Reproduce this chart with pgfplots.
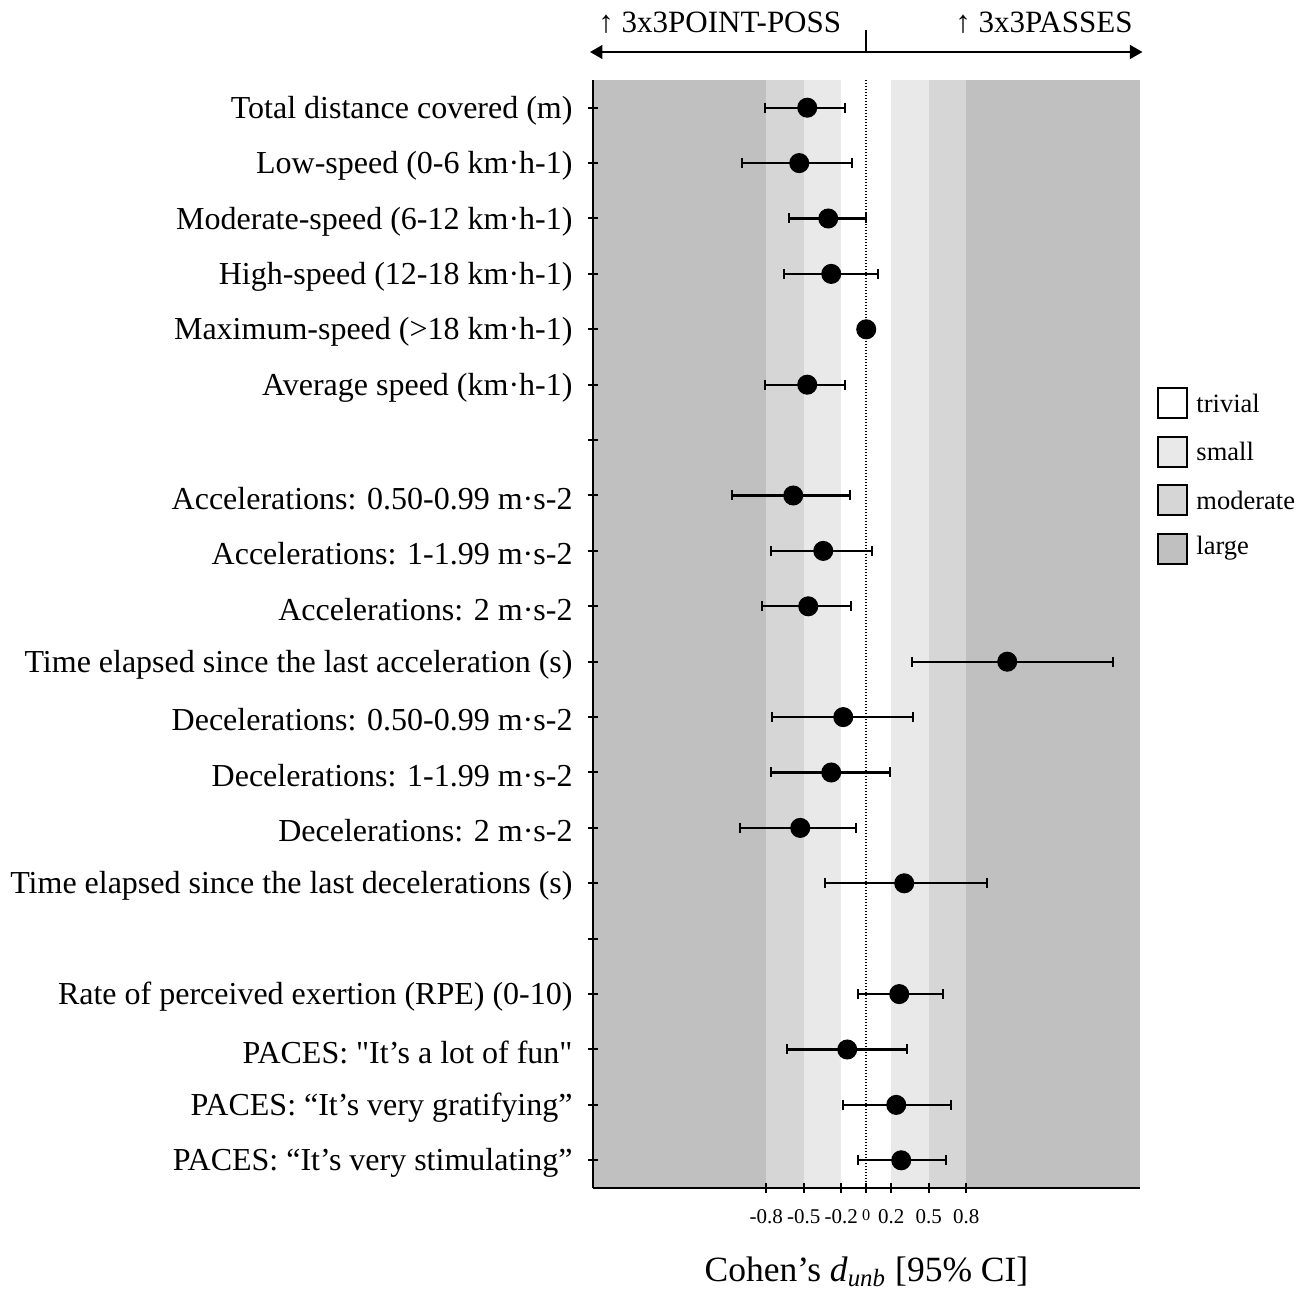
\documentclass[border=0pt]{standalone}
\usepackage{fontspec}
\setmainfont{Liberation Serif}
\usepackage{pgfplots}
\pgfplotsset{compat=1.18}
\usepackage{pgfplotstable}
\usetikzlibrary{arrows.meta}

\definecolor{trivialc}{HTML}{FFFFFF}
\definecolor{smallc}{HTML}{E9E9E9}
\definecolor{moderatec}{HTML}{D6D6D6}
\definecolor{largec}{HTML}{C0C0C0}

% row, effect size, lower and upper 95% CI
\pgfplotstableread{
row d lo hi
1 -0.472 -0.808 -0.168
2 -0.536 -0.992 -0.112
3 -0.304 -0.616 0.000
4 -0.280 -0.656 0.096
5 0.000 0.000 0.000
6 -0.472 -0.808 -0.168
8 -0.584 -1.072 -0.128
9 -0.344 -0.760 0.048
10 -0.464 -0.832 -0.120
11 1.128 0.368 1.976
12 -0.184 -0.752 0.376
13 -0.280 -0.760 0.192
14 -0.528 -1.008 -0.080
15 0.304 -0.328 0.968
17 0.264 -0.064 0.616
18 -0.152 -0.632 0.328
19 0.240 -0.184 0.680
20 0.280 -0.064 0.640
}\effects

\tikzset{legbox/.style={draw=black, line width=0.8pt},
         legtxt/.style={anchor=west, inner sep=0pt, font=\fontsize{10.6}{12}\selectfont}}

\begin{document}
\begin{tikzpicture}
\begin{axis}[
    scale only axis,
    width=218.8pt, height=443.2pt,
    xmin=-2.186, xmax=2.19,
    ymin=0.5, ymax=20.5,
    y dir=reverse,
    axis lines=left,
    axis line style={-, line width=0.8pt},
    axis on top,
    tick align=center,
    major tick length=4pt,
    tick style={line width=0.8pt, black},
    xtick={-0.8,-0.5,-0.2,0,0.2,0.5,0.8},
    xticklabels={-0.8,-0.5,-0.2,{\fontsize{6.5}{6.5}\selectfont 0},0.2,0.5,0.8},
    xticklabel style={font=\fontsize{8.4}{9}\selectfont, inner sep=0pt, yshift=-6.5pt},
    ytick={1,...,20},
    yticklabels={
        {Total distance covered (m)},
        {Low-speed (0-6 km·h-1)},
        {Moderate-speed (6-12 km·h-1)},
        {High-speed (12-18 km·h-1)},
        {Maximum-speed (>18 km·h-1)},
        {Average speed (km·h-1)},
        {},
        {Accelerations: 0.50-0.99 m·s-2},
        {Accelerations: 1-1.99 m·s-2},
        {Accelerations: 2 m·s-2},
        {Time elapsed since the last acceleration (s)},
        {Decelerations: 0.50-0.99 m·s-2},
        {Decelerations: 1-1.99 m·s-2},
        {Decelerations: 2 m·s-2},
        {Time elapsed since the last decelerations (s)},
        {},
        {Rate of perceived exertion (RPE) (0-10)},
        {PACES: \textquotedbl It’s a lot of fun\textquotedbl},
        {PACES: “It’s very gratifying”},
        {PACES: “It’s very stimulating”}},
    yticklabel style={font=\fontsize{12.8}{15}\selectfont, inner sep=0pt, xshift=-6pt, yshift=-1.2pt},
    xlabel={Cohen’s \textit{d}\textsubscript{\textit{unb}} [95\% CI]},
    xlabel style={font=\fontsize{14.2}{17}\selectfont, at={(axis description cs:0.5,0)}, anchor=base, yshift=-37.4pt},
    clip=false,
]
% magnitude bands
\fill[largec] (axis cs:-2.186,0.5) rectangle (axis cs:-0.8,20.5);
\fill[moderatec] (axis cs:-0.8,0.5) rectangle (axis cs:-0.5,20.5);
\fill[smallc] (axis cs:-0.5,0.5) rectangle (axis cs:-0.2,20.5);
\fill[smallc] (axis cs:0.2,0.5) rectangle (axis cs:0.5,20.5);
\fill[moderatec] (axis cs:0.5,0.5) rectangle (axis cs:0.8,20.5);
\fill[largec] (axis cs:0.8,0.5) rectangle (axis cs:2.19,20.5);
\draw[line width=0.6pt, dash pattern=on 0.6pt off 0.6pt] (axis cs:0,0.5) -- (axis cs:0,20.5);

% confidence interval bars
\addplot[only marks, mark=none, black,
    error bars/.cd, x dir=both, x explicit,
    error bar style={line width=0.9pt, black},
    error mark=none]
    table[x=d, y=row,
          x error plus expr=\thisrow{hi}-\thisrow{d},
          x error minus expr=\thisrow{d}-\thisrow{lo}] {\effects};
% caps at the interval ends
\addplot[only marks, mark=|, mark size=2pt, line width=0.9pt, black] table[x=lo, y=row] {\effects};
\addplot[only marks, mark=|, mark size=2pt, line width=0.9pt, black] table[x=hi, y=row] {\effects};
% point estimates
\addplot[only marks, mark=*, mark size=3.8pt, black] table[x=d, y=row] {\effects};

% direction arrow above the plot
\draw[{Triangle[length=5pt,width=5.5pt]}-{Triangle[length=5pt,width=5.5pt]}, line width=0.9pt]
    ([yshift=11.2pt,xshift=-1.2pt]axis description cs:0,1) -- ([yshift=11.2pt,xshift=1pt]axis description cs:1,1);
\draw[line width=0.8pt] ([yshift=11.2pt]axis cs:0,0.5) -- ([yshift=20pt]axis cs:0,0.5);
\node[anchor=base west, inner sep=0pt, font=\fontsize{12.4}{15}\selectfont]
    at ([yshift=19pt,xshift=2pt]axis description cs:0,1) {↑ 3x3POINT-POSS};
\node[anchor=base east, inner sep=0pt, font=\fontsize{12.4}{15}\selectfont]
    at ([yshift=19pt,xshift=-2.8pt]axis description cs:1,1) {↑ 3x3PASSES};

% legend
\draw[legbox, fill=trivialc] ([xshift=7.2pt, yshift=-123.2pt]axis description cs:1,1) rectangle ++(11.6pt,-12pt);
\node[legtxt] at ([xshift=22.4pt, yshift=-129.2pt]axis description cs:1,1) {trivial};
\draw[legbox, fill=smallc] ([xshift=7.2pt, yshift=-142.6pt]axis description cs:1,1) rectangle ++(11.6pt,-12pt);
\node[legtxt] at ([xshift=22.4pt, yshift=-148.6pt]axis description cs:1,1) {small};
\draw[legbox, fill=moderatec] ([xshift=7.2pt, yshift=-162pt]axis description cs:1,1) rectangle ++(11.6pt,-12pt);
\node[legtxt] at ([xshift=22.4pt, yshift=-168pt]axis description cs:1,1) {moderate};
\draw[legbox, fill=largec] ([xshift=7.2pt, yshift=-181.4pt]axis description cs:1,1) rectangle ++(11.6pt,-12pt);
\node[legtxt] at ([xshift=22.4pt, yshift=-187.4pt]axis description cs:1,1) {large};

\coordinate (O) at (axis description cs:0,0);
\end{axis}
\path ([shift={(-237.2pt,-41.2pt)}]O) rectangle ([shift={(288.4pt,475.2pt)}]O);
\end{tikzpicture}
\end{document}
